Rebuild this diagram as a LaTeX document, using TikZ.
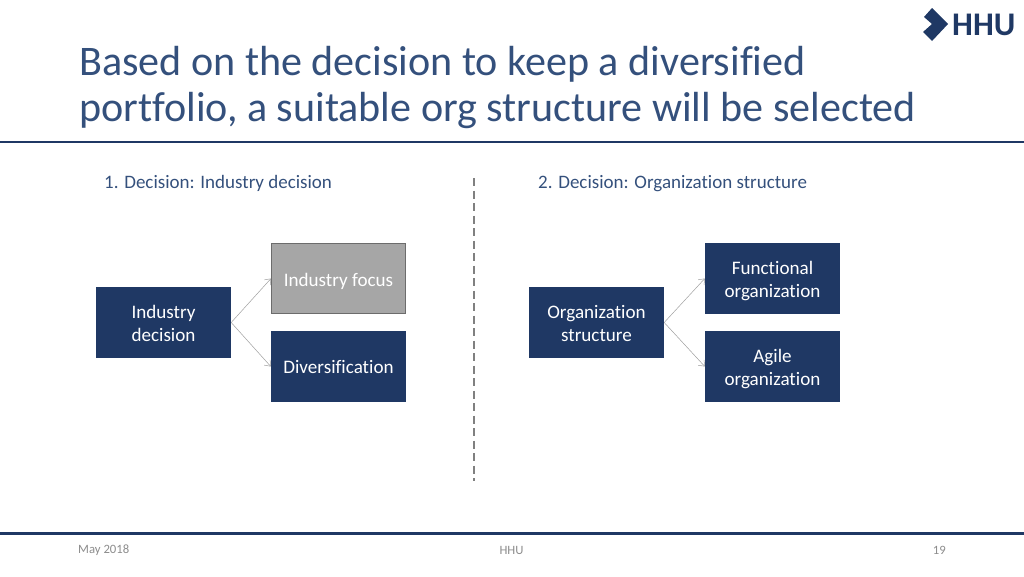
\documentclass[tikz,border=0pt]{standalone}
\usepackage{fontspec}
\setmainfont[Ligatures=NoCommon]{Carlito}
\usetikzlibrary{arrows.meta}
\definecolor{hhublue}{HTML}{1F3864}
\definecolor{titleblue}{HTML}{34507C}
\definecolor{greybox}{HTML}{A6A6A6}
\definecolor{footgrey}{HTML}{8C8C8C}
% lowers the lines of a box, the box keeps its size
\newcommand{\boxtext}[2]{\raisebox{-#1pt}[\height][\depth]{\begin{tabular}{@{}c@{}}#2\end{tabular}}}
\begin{document}
\begin{tikzpicture}[x=1pt, y=-1pt,
    decisionbox/.style={rectangle, fill=hhublue, text=white, minimum width=135pt, minimum height=71pt, inner sep=2pt, font=\fontsize{19.1}{23}\selectfont},
    focusbox/.style={decisionbox, fill=greybox, draw=gray!85!black, line width=0.8pt, minimum width=134.2pt, minimum height=70.2pt},
    branch/.style={-{Straight Barb[length=5pt, width=8pt]}, draw=gray!75, line width=0.5pt},
    rulebar/.style={draw=hhublue, line width=2.2pt},
    headline/.style={text=titleblue, anchor=west, inner sep=0pt, font=\fontsize{19}{22}\selectfont},
    footline/.style={text=footgrey, inner sep=0pt, font=\fontsize{12.7}{14}\selectfont}]
    \useasboundingbox (0,0) rectangle (1024,576);
    % Title and logo
    \node[anchor=west, align=left, inner sep=0pt, text=titleblue, font=\fontsize{42.1}{45.5}\selectfont] (title) at (79,87.5)
      {Based on the decision to keep a diversified\\portfolio, a suitable org structure will be selected};
    \fill[hhublue] (932,8) -- (948,24) -- (932,41) -- (923,32) -- (932,24) -- (924,17) -- cycle;
    \node[anchor=west, inner sep=0pt, text=hhublue, font=\fontsize{33}{33}\bfseries\selectfont] (logo) at (952,25) {HHU};
    % Rules
    \coordinate (topl) at (0,142);
    \coordinate (topr) at (1024,142);
    \coordinate (botl) at (0,533.5);
    \coordinate (botr) at (1024,533.5);
    \coordinate (dashs) at (474,178);
    \coordinate (dashe) at (474,481);
    \draw[rulebar] (topl) -- (topr);
    \draw[rulebar] (botl) -- (botr);
    \draw[draw=gray, line width=1.6pt, dash pattern=on 8pt off 4.5pt] (dashs) -- (dashe);
    % Place headings
    \node[headline] (headleft) at (104,183.5) {1. Decision: Industry decision};
    \node[headline] (headright) at (538,183.5) {2. Decision: Organization structure};
    % Place nodes
    \node[decisionbox] (industry)  at (163.5,322.5) {\boxtext{3}{Industry\\decision}};
    \node[focusbox]    (focus)     at (338.5,278.5) {\boxtext{3}{Industry focus}};
    \node[decisionbox] (diversify) at (338.5,366.5) {\boxtext{2.5}{Diversification}};
    \node[decisionbox] (orga)      at (596.5,322.5) {\boxtext{3}{Organization\\structure}};
    \node[decisionbox] (functional) at (772.5,278.5) {\boxtext{2.5}{Functional\\organization}};
    \node[decisionbox] (agile)     at (772.5,366.5) {\boxtext{2.5}{Agile\\organization}};
    % Create edges
    \draw[branch] (industry.east) -- (focus.west);
    \draw[branch] (industry.east) -- (diversify.west);
    \draw[branch] (orga.east) -- (functional.west);
    \draw[branch] (orga.east) -- (agile.west);
    % Footer
    \node[footline, anchor=west] (date) at (78,550) {May 2018};
    \node[footline] (footmid) at (511.5,550) {HHU};
    \node[footline, anchor=east] (page) at (946,550) {19};
\end{tikzpicture}
\end{document}
